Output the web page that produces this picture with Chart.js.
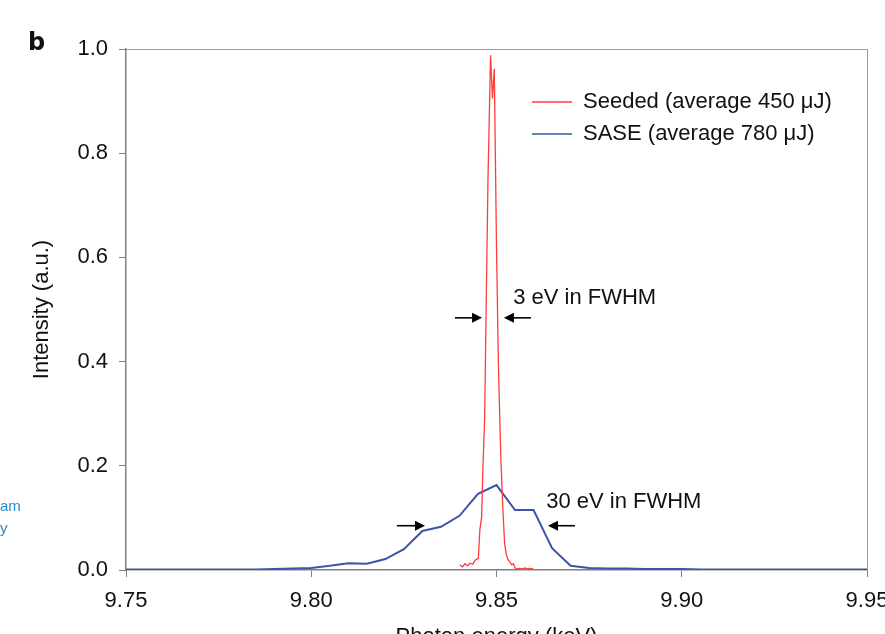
<!DOCTYPE html>
<html>
<head>
<meta charset="utf-8">
<script src="https://cdn.jsdelivr.net/npm/chart.js@4.4.0/dist/chart.umd.min.js"></script>
<style>
  html, body { margin: 0; padding: 0; background: #fff; overflow: hidden; }
  #wrap { position: relative; width: 885px; height: 634px; overflow: hidden; }
  #chart { position: absolute; left: 0; top: 0; width: 900px; height: 660px; }
</style>
</head>
<body>
<div id="wrap"><canvas id="chart" width="900" height="660"></canvas></div>
<script>
// Dados
const seededLabel = 'Seeded (average 450 μJ)';
const saseLabel = 'SASE (average 780 μJ)';

const xTicks = [9.75, 9.80, 9.85, 9.90, 9.95];
const yTicks = [0.0, 0.2, 0.4, 0.6, 0.8, 1.0];

const saseEnergy = [
  9.750, 9.755, 9.760, 9.765, 9.770, 9.775, 9.780, 9.785, 9.790, 9.795,
  9.800, 9.805, 9.810, 9.815, 9.820, 9.825, 9.830, 9.835, 9.840, 9.845,
  9.850, 9.855, 9.860, 9.865, 9.870, 9.875, 9.880, 9.885, 9.890, 9.895,
  9.900, 9.905, 9.910, 9.915, 9.920, 9.925, 9.930, 9.935, 9.940, 9.945, 9.950
];
const saseIntensity = [
  0.001, 0.001, 0.001, 0.001, 0.001, 0.001, 0.001, 0.001, 0.002, 0.003,
  0.004, 0.008, 0.013, 0.012, 0.021, 0.040, 0.075, 0.083, 0.104, 0.146,
  0.163, 0.115, 0.115, 0.042, 0.008, 0.004, 0.003, 0.003, 0.002, 0.002,
  0.002, 0.001, 0.001, 0.001, 0.001, 0.001, 0.001, 0.001, 0.001, 0.001, 0.001
];

const seededEnergy = [
  9.8401, 9.8408, 9.8415, 9.8422, 9.8428, 9.8436, 9.8442, 9.8447, 9.8451, 9.8455,
  9.8460, 9.8463, 9.8468, 9.8472, 9.8477, 9.8484, 9.8489, 9.8494, 9.8500, 9.8505,
  9.8509, 9.8512, 9.8517, 9.8522, 9.8527, 9.8532, 9.8537, 9.8541, 9.8546, 9.8550,
  9.8555, 9.8563, 9.8570, 9.8577, 9.8584, 9.8590, 9.8599
];
const seededIntensity = [
  0.010, 0.006, 0.012, 0.008, 0.013, 0.011, 0.019, 0.021, 0.022, 0.077,
  0.102, 0.190, 0.290, 0.500, 0.750, 0.988, 0.905, 0.962, 0.620, 0.400,
  0.288, 0.210, 0.120, 0.050, 0.028, 0.019, 0.014, 0.010, 0.012, 0.004,
  0.002, 0.003, 0.002, 0.004, 0.002, 0.003, 0.002
];

// Anotações (setas e textos em coordenadas de dados)
const arrows = [
  [9.8388, 9.8461, 0.484],
  [9.8593, 9.8520, 0.484],
  [9.8231, 9.8307, 0.085],
  [9.8712, 9.8639, 0.085]
];
const notes = [
  ['3 eV in FWHM', 9.8545, 0.522],
  ['30 eV in FWHM', 9.8634, 0.130]
];

const FONT = '"Liberation Sans", Arial, Helvetica, sans-serif';
const RED = '#ff3c3c';
const BLUE = '#3b55ae';
const AXIS = '#808080';

const toPoints = (xs, ys) => xs.map((x, i) => ({ x, y: ys[i] }));

function drawArrow(ctx, x0, x1, y) {
  const dir = Math.sign(x1 - x0);
  ctx.strokeStyle = '#000';
  ctx.fillStyle = '#000';
  ctx.lineWidth = 1.6;
  ctx.beginPath();
  ctx.moveTo(x0, y);
  ctx.lineTo(x1 - dir * 6, y);
  ctx.stroke();
  ctx.beginPath();
  ctx.moveTo(x1, y);
  ctx.lineTo(x1 - dir * 10, y - 5);
  ctx.lineTo(x1 - dir * 10, y + 5);
  ctx.closePath();
  ctx.fill();
}

const overlay = {
  id: 'overlay',
  afterDatasetsDraw(chart) {
    const { ctx, chartArea: a, scales: { x, y } } = chart;
    ctx.save();

    // moldura superior e direita
    ctx.strokeStyle = '#9a9a9a';
    ctx.lineWidth = 1;
    ctx.beginPath();
    ctx.moveTo(a.left, a.top + 0.5);
    ctx.lineTo(a.right + 0.5, a.top + 0.5);
    ctx.lineTo(a.right + 0.5, a.bottom);
    ctx.stroke();

    // legenda
    ctx.font = '22px ' + FONT;
    ctx.textBaseline = 'middle';
    ctx.textAlign = 'left';
    chart.data.datasets.forEach((ds, i) => {
      const ly = 102 + i * 32;
      ctx.strokeStyle = ds.borderColor;
      ctx.lineWidth = 1.5;
      ctx.beginPath();
      ctx.moveTo(532, ly);
      ctx.lineTo(572, ly);
      ctx.stroke();
      ctx.fillStyle = '#111';
      ctx.fillText(ds.label, 583, ly);
    });

    // setas e textos
    arrows.forEach(([x0, x1, yv]) =>
      drawArrow(ctx, x.getPixelForValue(x0), x.getPixelForValue(x1), y.getPixelForValue(yv)));
    ctx.fillStyle = '#111';
    ctx.font = '22px ' + FONT;
    notes.forEach(([t, xv, yv]) => ctx.fillText(t, x.getPixelForValue(xv), y.getPixelForValue(yv)));

    // rótulo do painel e restos de texto vizinho
    ctx.font = 'bold 24px "DejaVu Sans", sans-serif';
    ctx.textBaseline = 'alphabetic';
    ctx.fillText('b', 28, 50);
    ctx.fillStyle = '#2a8ad2';
    ctx.font = '15px ' + FONT;
    ctx.fillText('am', 0, 511);
    ctx.fillText('y', 0, 533);
    ctx.restore();
  }
};

new Chart(document.getElementById('chart'), {
  type: 'line',
  data: {
    datasets: [
      {
        label: seededLabel,
        data: toPoints(seededEnergy, seededIntensity),
        borderColor: RED,
        borderWidth: 1.3,
        pointRadius: 0,
        tension: 0
      },
      {
        label: saseLabel,
        data: toPoints(saseEnergy, saseIntensity),
        borderColor: BLUE,
        borderWidth: 2,
        pointRadius: 0,
        tension: 0
      }
    ]
  },
  options: {
    responsive: false,
    animation: false,
    layout: { padding: { left: 0, top: 49, right: 33, bottom: 0 } },
    plugins: {
      legend: { display: false },
      tooltip: { enabled: false }
    },
    scales: {
      x: {
        type: 'linear',
        min: xTicks[0],
        max: xTicks[xTicks.length - 1],
        afterBuildTicks: s => { s.ticks = xTicks.map(v => ({ value: v })); },
        afterFit: s => { s.height = 90; },
        border: { color: AXIS, width: 1.5 },
        grid: { drawOnChartArea: false, drawTicks: true, tickLength: 7, color: AXIS },
        ticks: {
          padding: 11,
          color: '#111',
          font: { family: FONT, size: 22 },
          callback: v => Number(v).toFixed(2)
        },
        title: {
          display: true,
          text: 'Photon energy (keV)',
          color: '#111',
          font: { family: FONT, size: 22 },
          padding: { top: 0, bottom: 10 }
        }
      },
      y: {
        min: yTicks[0],
        max: yTicks[yTicks.length - 1],
        afterBuildTicks: s => { s.ticks = yTicks.map(v => ({ value: v })); },
        afterFit: s => { s.width = 126; },
        border: { color: AXIS, width: 1.5 },
        grid: { drawOnChartArea: false, drawTicks: true, tickLength: 7, color: AXIS },
        ticks: {
          padding: 11,
          color: '#111',
          font: { family: FONT, size: 22 },
          callback: v => Number(v).toFixed(1)
        },
        title: {
          display: true,
          text: 'Intensity (a.u.)',
          color: '#111',
          font: { family: FONT, size: 22 },
          padding: { top: 29, bottom: 0 }
        }
      }
    }
  },
  plugins: [overlay]
});
</script>
</body>
</html>
